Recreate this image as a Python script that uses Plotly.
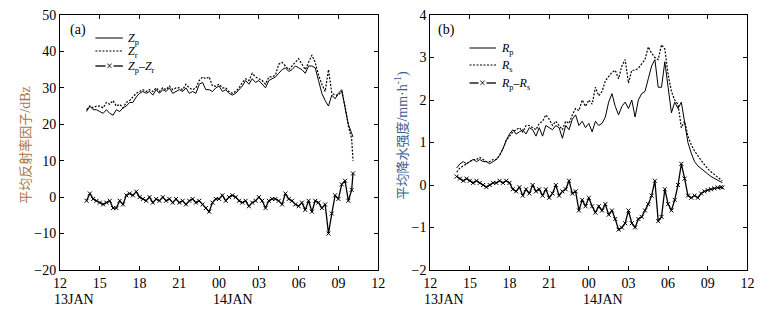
import pandas as pd
import plotly.graph_objects as go

# ---------------- data (15-min samples, 13 JAN 14:00 -> 14 JAN 10:06) ----------------
times = list(pd.date_range("2014-01-13 14:00", "2014-01-14 10:00", freq="15min")) + [pd.Timestamp("2014-01-14 10:06")]

z_p = [23.5, 25, 24, 24,
       23.5, 23, 24, 23,
       22.5, 24, 23.5, 24.5,
       25, 26, 26, 27.5,
       28.5, 29, 28.5, 29,
       28, 29.5, 28.5, 29.5,
       29, 30, 28.5, 29,
       29.5, 29, 30, 28.5,
       29, 28.5, 31, 31.5,
       29.5, 29.5, 29, 30,
       30.5, 29, 29.5, 28.5,
       28, 28.5, 29.5, 30.5,
       32, 31, 32.5, 31.5,
       32, 31, 30, 32,
       32.5, 33, 34, 35,
       35.5, 34.5, 35, 36,
       35.5, 35, 34, 36,
       36, 35.5, 32, 28.5,
       26.5, 25, 28, 27,
       28.5, 29.5, 24.5, 20,
       17.5, 16.5]

z_r = [24, 25, 24.5, 25,
       25, 24.5, 26, 25.5,
       26.5, 25, 25.5, 24.5,
       26, 26.5, 27.5, 28.5,
       29, 29.5, 29, 29.5,
       29, 30, 29, 30,
       29.5, 30.5, 29.5, 30,
       30, 29.5, 31, 30,
       29.5, 30, 32, 33,
       32.5, 33, 30.5, 30.5,
       31, 30, 30, 29,
       28.5, 29, 30, 31.5,
       32.5, 32, 34, 33,
       32.5, 32, 31, 33,
       33, 33.5, 36.5, 37,
       36, 35, 36, 37,
       38, 36.5, 35, 37,
       39, 37, 33.5, 31,
       29, 35, 28.5, 28,
       28, 29, 25, 19.5,
       16, 10]

z_diff = [-1, 1, -0.5, -1,
          -1.5, -2, -1.5, -1,
          -3, -3, -1, -2,
          0.5, 1, 0.5, 1.5,
          0, -0.5, -1, 0,
          -1.5, -0.5, -1, 0,
          -1, -0.5, -1.5, -0.5,
          -1.5, -1, -2, -1,
          -0.5, -1.5, -1, -2,
          -3, -4, -1.5, -0.5,
          -0.5, 0.5, -1, 0,
          0.5, 0, -1, -1.5,
          -1, -2.5, -1.5, -1,
          0, -1, -3, -1,
          -0.5, -0.5, -1, -2,
          1, -0.5, -1, -2,
          -2.5, -1.5, -3.5, -1,
          -4, -1, -1.5, -3,
          -2, -10, -4.5, 0.5,
          -0.5, 3.5, 4.5, -1,
          2, 6.5]

r_p = [0.4, 0.5, 0.55, 0.5,
       0.55, 0.6, 0.55, 0.6,
       0.55, 0.55, 0.5, 0.55,
       0.6, 0.7, 0.85, 1.05,
       1.2, 1.3, 1.2, 1.25,
       1.3, 1.2, 1.35, 1.3,
       1.15, 1.35, 1.15, 1.4,
       1.35, 1.3, 1.4, 1.35,
       1.1, 1.4, 1.3, 1.55,
       1.65, 1.4, 1.5, 1.35,
       1.45, 1.25, 1.5, 1.4,
       1.45, 1.6, 1.95, 2.15,
       1.85, 1.65, 1.85, 1.95,
       1.8, 2.0, 1.6, 2.0,
       2.15, 2.2, 2.5, 2.8,
       2.95, 2.3, 2.3, 2.9,
       2.3, 1.7, 1.95, 1.8,
       1.95, 1.45, 1.0, 0.75,
       0.55, 0.45, 0.38, 0.32,
       0.26, 0.2, 0.15, 0.1,
       0.07, 0.06]

r_s = [0.3, 0.4, 0.45, 0.5,
       0.55, 0.6, 0.6, 0.65,
       0.6, 0.55, 0.55, 0.6,
       0.6, 0.7, 0.85, 1.05,
       1.15, 1.25, 1.3, 1.35,
       1.25, 1.4, 1.4, 1.35,
       1.3, 1.45, 1.5, 1.65,
       1.55, 1.4, 1.5, 1.4,
       1.3, 1.5, 1.45, 1.65,
       1.8, 1.75, 2.0, 1.85,
       2.0, 1.9, 2.3, 2.1,
       2.2, 2.45, 2.55, 2.65,
       2.7, 2.5, 2.8, 2.95,
       2.4, 2.7, 2.7, 2.75,
       2.85, 2.95, 3.25, 3.1,
       3.0, 2.95, 3.3, 3.2,
       2.6, 2.2, 2.0, 1.9,
       1.35, 1.5, 1.15, 0.95,
       0.8, 0.68, 0.58, 0.48,
       0.38, 0.31, 0.24, 0.17,
       0.12, 0.1]

r_diff = [0.2, 0.15, 0.1, 0.15,
          0.1, 0.05, 0.1, 0.05,
          0.0, -0.05, 0.0, 0.05,
          0.05, 0.1, 0.05, 0.1,
          0.05, -0.1, -0.15, -0.05,
          -0.25, -0.1, -0.2, 0.0,
          -0.15, -0.1, -0.25, -0.1,
          -0.3, -0.2, 0.0, -0.25,
          -0.15, -0.1, 0.1, -0.2,
          -0.15, -0.6, -0.35, -0.5,
          -0.3, -0.5, -0.65, -0.5,
          -0.6, -0.45, -0.7, -0.6,
          -0.8, -1.05, -1.0, -0.9,
          -0.6, -0.9, -1.0, -0.8,
          -0.75, -0.6, -0.45, -0.25,
          0.1, -0.85, -0.75, -0.1,
          -0.45, -0.6, -0.35, 0.0,
          0.5, 0.15, -0.25, -0.3,
          -0.25, -0.3, -0.2, -0.15,
          -0.12, -0.1, -0.08, -0.06,
          -0.05, -0.06]

tick_times = ["2014-01-13 12:00", "2014-01-13 15:00", "2014-01-13 18:00", "2014-01-13 21:00",
              "2014-01-14 00:00", "2014-01-14 03:00", "2014-01-14 06:00", "2014-01-14 09:00",
              "2014-01-14 12:00"]
tick_labels = ["12", "15", "18", "21", "00", "03", "06", "09", "12"]
day_labels = [("2014-01-13 12:00", "13JAN"), ("2014-01-14 00:00", "14JAN")]

legend_a = ["<i>Z</i><sub>p</sub>", "<i>Z</i><sub>r</sub>", "<i>Z</i><sub>p</sub>–<i>Z</i><sub>r</sub>"]
legend_b = ["<i>R</i><sub>p</sub>", "<i>R</i><sub>s</sub>", "<i>R</i><sub>p</sub>–<i>R</i><sub>s</sub>"]

# ---------------- figure ----------------
W, H = 777, 313
MT, MB = 15, 43
PH = H - MT - MB
SERIF_NAME = "Liberation Serif"
SERIF = "Liberation Serif, Times New Roman, Noto Sans CJK SC, serif"
CJK = "Noto Sans CJK SC, sans-serif"


def px(x):
    return x / W


def py(y):
    return 1 - (y - MT) / PH


def latin(t):
    return f"<span style='font-family:{SERIF_NAME};font-size:14px'>{t}</span>"


SOLID = dict(color="black", width=1)
DASHED = dict(color="black", width=1.2, dash="2px,1.5px")
DIFF = dict(color="black", width=1.3)

fig = go.Figure()


def add_panel(xa, ya, p, s, d, names):
    fig.add_trace(go.Scatter(x=times, y=p, mode="lines", name=names[0], line=SOLID,
                             xaxis=xa, yaxis=ya, showlegend=False))
    fig.add_trace(go.Scatter(x=times, y=s, mode="lines", name=names[1], line=DASHED,
                             xaxis=xa, yaxis=ya, showlegend=False))
    fig.add_trace(go.Scatter(x=times, y=d, mode="lines+markers", name=names[2], line=DIFF,
                             marker=dict(symbol="x-thin", size=4, color="black",
                                         line=dict(color="black", width=1)),
                             xaxis=xa, yaxis=ya, showlegend=False))


add_panel("x", "y", z_p, z_r, z_diff, legend_a)
add_panel("x2", "y2", r_p, r_s, r_diff, legend_b)

xcommon = dict(type="date", range=["2014-01-13 12:00", "2014-01-14 12:00"],
               tickmode="array", tickvals=tick_times, ticktext=tick_labels,
               showline=True, linecolor="black", linewidth=1, mirror="ticks",
               ticks="inside", ticklen=4, tickcolor="black", showgrid=False, zeroline=False,
               tickfont=dict(family=SERIF, size=14, color="black"))
ycommon = dict(showline=True, linecolor="black", linewidth=1, mirror="ticks",
               ticks="inside", ticklen=4, tickcolor="black", showgrid=False, zeroline=False,
               tickfont=dict(family=SERIF, size=14, color="black"))

fig.update_layout(
    width=W, height=H,
    margin=dict(l=0, r=0, t=MT, b=MB),
    paper_bgcolor="white", plot_bgcolor="white",
    showlegend=False,
    xaxis=dict(domain=[px(54), px(378)], anchor="y", **xcommon),
    yaxis=dict(domain=[0, 1], anchor="x", range=[-20, 50], tickmode="linear",
               tick0=-20, dtick=10, **ycommon),
    xaxis2=dict(domain=[px(431), px(754)], anchor="y2", **xcommon),
    yaxis2=dict(domain=[0, 1], anchor="x2", range=[-2, 4], tickmode="linear",
                tick0=-2, dtick=1, **ycommon),
)

annotations = [
    dict(text="(a)", x=px(62), y=py(30), xref="paper", yref="paper",
         xanchor="left", yanchor="middle", showarrow=False,
         font=dict(family=SERIF, size=14, color="black")),
    dict(text="(b)", x=px(437), y=py(30), xref="paper", yref="paper",
         xanchor="left", yanchor="middle", showarrow=False,
         font=dict(family=SERIF, size=14, color="black")),
    dict(text="平均反射率因子" + latin("/dBz"), x=px(17), y=0.49, xref="paper", yref="paper",
         textangle=-90, showarrow=False, xanchor="center", yanchor="middle",
         font=dict(family=CJK, size=13, color="#a87548")),
    dict(text="平均降水强度" + latin("/mm·h<sup>-1</sup>)"), x=px(402), y=0.53,
         xref="paper", yref="paper",
         textangle=-90, showarrow=False, xanchor="center", yanchor="middle",
         font=dict(family=CJK, size=13, color="#3e5b8c")),
]
for xa in ["x", "x2"]:
    for t, lab in day_labels:
        annotations.append(dict(text=lab, x=t, y=0, xref=xa, yref="paper",
                                xanchor="left", yanchor="top", yshift=-20, xshift=-8,
                                showarrow=False,
                                font=dict(family=SERIF, size=14, color="black")))

# ---- hand-built legends (sample line + label) ----
shapes = []


def legend_block(x0, x1, xtext, rows, names):
    styles = [SOLID, DASHED, DIFF]
    for i, (yrow, name) in enumerate(zip(rows, names)):
        st = dict(styles[i])
        shapes.append(dict(type="line", xref="paper", yref="paper",
                           x0=px(x0), x1=px(x1), y0=py(yrow), y1=py(yrow), line=st))
        if i == 2:
            annotations.append(dict(text="×", x=px((x0 + x1) / 2), y=py(yrow),
                                    xref="paper", yref="paper", showarrow=False,
                                    xanchor="center", yanchor="middle", bgcolor="white",
                                    borderpad=0,
                                    font=dict(family=SERIF, size=12, color="black")))
        annotations.append(dict(text=name, x=px(xtext), y=py(yrow + 1),
                                xref="paper", yref="paper", showarrow=False,
                                xanchor="left", yanchor="middle",
                                font=dict(family=SERIF, size=12, color="black")))


legend_block(90, 118, 121, [38, 51, 66], legend_a)
legend_block(471, 498, 501, [48, 65, 83], legend_b)

fig.update_layout(annotations=annotations, shapes=shapes)

fig.write_html("out.html", config={"displayModeBar": False},
               post_script="document.body.style.margin='0';")
